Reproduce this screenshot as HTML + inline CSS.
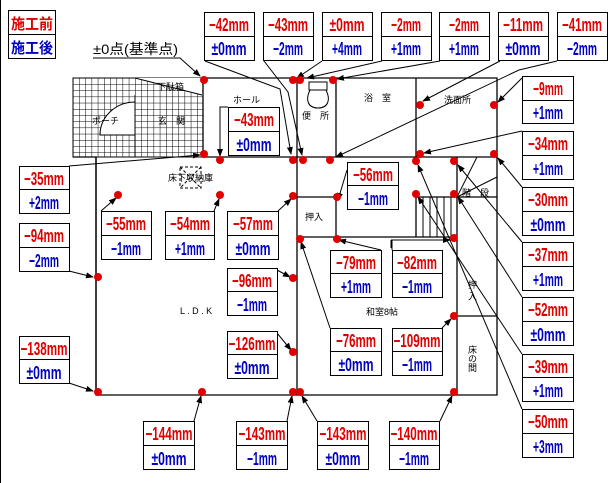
<!DOCTYPE html>
<html><head><meta charset="utf-8"><style>
html,body{margin:0;padding:0;background:#fff;}
svg{display:block;}
.r{fill:#e00000;font:bold 18px "Liberation Sans","Noto Sans CJK JP",sans-serif;text-anchor:middle;}
.b{fill:#0000c0;font:bold 18px "Liberation Sans","Noto Sans CJK JP",sans-serif;text-anchor:middle;}
.t{fill:#000;font:9px "Liberation Sans","Noto Sans CJK JP",sans-serif;}
</style></head><body>
<svg width="614" height="483" viewBox="0 0 614 483" xmlns="http://www.w3.org/2000/svg">
<defs>
<pattern id="g" x="73" y="78" width="6.2" height="6.2" patternUnits="userSpaceOnUse">
<path d="M0 0H6.2M0 0V6.2" stroke="#000" stroke-width="1" fill="none"/></pattern>
<marker id="a" markerWidth="8" markerHeight="6" refX="7" refY="3" orient="auto" markerUnits="userSpaceOnUse"><path d="M0 0L8 3L0 6z" fill="#000"/></marker>
</defs>
<rect x="0" y="0" width="614" height="483" fill="#fff"/>
<line x1="0.5" y1="0" x2="0.5" y2="483" stroke="#000"/>
<rect x="73" y="78" width="130" height="79" fill="url(#g)" stroke="#000"/>
<path d="M135 78H202V95L135 78Z" fill="#fff"/>
<line x1="135" y1="78" x2="202" y2="95" stroke="#000"/>
<path d="M100 135A35 33 0 0 1 135 102V135Z" fill="#fff" stroke="#000"/>
<line x1="135" y1="95" x2="135" y2="157" stroke="#000"/>
<g stroke="#000" stroke-width="1.3" fill="none">
<path d="M203 78H497V395H96V157H73"/>
<path d="M203 78V157H497"/>
<path d="M297 78V395"/>
<path d="M336 78V157M416 78V157"/>
<path d="M297 197H336V237M297 237H457"/>
<path d="M457 157V395M416 197H497M457 316H497"/>
<path d="M416 197V237"/>
<path d="M96 157V395"/>
</g>
<g stroke="#000" stroke-width="1">
<line x1="423" y1="197" x2="423" y2="237"/><line x1="430" y1="197" x2="430" y2="237"/>
<line x1="437" y1="197" x2="437" y2="237"/><line x1="444" y1="197" x2="444" y2="237"/>
<line x1="451" y1="197" x2="451" y2="237"/>
<line x1="457" y1="197" x2="477" y2="157"/><line x1="457" y1="197" x2="497" y2="177"/>
<line x1="391" y1="240" x2="391" y2="248"/><line x1="391" y1="240" x2="440" y2="240"/>
</g>
<path d="M309 82H327V90H309Z M310 90C305 100 308 108 318 108C328 108 331 100 326 90" fill="#fff" stroke="#000"/>
<rect x="180" y="167" width="21" height="21" fill="none" stroke="#000" stroke-dasharray="3,2"/>
<path d="M180 167L201 188M201 167L180 188" stroke="#000" stroke-dasharray="3,2"/>
<text class="t" x="157" y="90">下駄箱</text>
<text class="t" x="92" y="124">ポーチ</text>
<text class="t" x="158" y="124">玄　関</text>
<text class="t" x="233" y="103">ホール</text>
<text class="t" x="302" y="119">便　所</text>
<text class="t" x="364" y="101">浴　室</text>
<text class="t" x="444" y="103">洗面所</text>
<text class="t" x="168" y="181">床下収納庫</text>
<text class="t" x="305" y="220">押入</text>
<text class="t" x="462" y="196">階　段</text>
<text class="t" x="180" y="314">L . D . K</text>
<text class="t" x="366" y="315">和室8帖</text>
<text class="t" x="472" y="280" writing-mode="tb">押 入</text>
<text class="t" x="472" y="345" writing-mode="tb">床の間</text>
<text x="93" y="54" textLength="85" lengthAdjust="spacingAndGlyphs" style="font:14px 'Liberation Sans','Noto Sans CJK JP',sans-serif">±0点(基準点)</text>
<g stroke="#000" stroke-width="1" fill="none" marker-end="url(#a)">
<path d="M93 58H180L200 76"/>
<path d="M205 61L280 89L291 154"/>
<path d="M264 61L288 92L302 155"/>
<path d="M322 61L297 78"/>
<path d="M382 61L307 78"/>
<path d="M440 61L337 79"/>
<path d="M500 61L423 101"/>
<path d="M557 61L519 70L336 157"/>
<path d="M522 78L498 102"/>
<path d="M522 131L424 153"/>
<path d="M522 187L498 158"/>
<path d="M522 242L458 165"/>
<path d="M522 297L458 197"/>
<path d="M522 354L418 197"/>
<path d="M522 409L418 165"/>
<path d="M69 166L200 155"/>
<path d="M69 271L93 277"/>
<path d="M69 383L93 391"/>
<path d="M228 107H220V156"/>
<path d="M101 211L116 198"/>
<path d="M214 211L219 199"/>
<path d="M278 211L291 199"/>
<path d="M277 270L290 277"/>
<path d="M277 333L291 350"/>
<path d="M194 421L201 396"/>
<path d="M287 421L292 396"/>
<path d="M317 421L302 396"/>
<path d="M440 421L452 396"/>
<path d="M347 170L338 200"/>
<path d="M381 250L339 240"/>
<path d="M392 250V240H450"/>
<path d="M330 328L301 242"/>
<path d="M442 328L451 319"/>
</g>
<g fill="#e00000">
<circle cx="204" cy="80" r="4"/><circle cx="293" cy="80" r="4"/><circle cx="300" cy="80" r="4"/><circle cx="333" cy="80" r="4"/>
<circle cx="420" cy="105" r="4"/><circle cx="494" cy="105" r="4"/>
<circle cx="204" cy="154" r="4"/><circle cx="220" cy="160" r="4"/><circle cx="293" cy="160" r="4"/><circle cx="303" cy="160" r="4"/>
<circle cx="330" cy="160" r="4"/><circle cx="416" cy="161" r="4"/><circle cx="420" cy="154" r="4"/><circle cx="454" cy="161" r="4"/><circle cx="494" cy="154" r="4"/>
<circle cx="118" cy="195" r="4"/><circle cx="220" cy="195" r="4"/><circle cx="293" cy="196" r="4"/><circle cx="337" cy="197" r="4"/>
<circle cx="416" cy="194" r="4"/><circle cx="454" cy="194" r="4"/>
<circle cx="300" cy="239" r="4"/><circle cx="337" cy="239" r="4"/><circle cx="454" cy="238" r="4"/>
<circle cx="98" cy="277" r="4"/><circle cx="293" cy="278" r="4"/><circle cx="454" cy="316" r="4"/><circle cx="293" cy="352" r="4"/>
<circle cx="98" cy="392" r="4"/><circle cx="202" cy="392" r="4"/><circle cx="293" cy="392" r="4"/><circle cx="300" cy="392" r="4"/><circle cx="454" cy="392" r="4"/>
</g>
<g fill="#fff" stroke="#000" stroke-width="1">
<rect x="8.5" y="10.5" width="47" height="48"/><line x1="8.5" y1="34.5" x2="55.5" y2="34.5"/>
</g>
<text x="11" y="29" textLength="42" lengthAdjust="spacingAndGlyphs" style="fill:#e00000;font:bold 15px 'Noto Sans CJK JP',sans-serif">施工前</text>
<text x="11" y="53" textLength="42" lengthAdjust="spacingAndGlyphs" style="fill:#0000c0;font:bold 15px 'Noto Sans CJK JP',sans-serif">施工後</text>
<g fill="#fff" stroke="#000" stroke-width="1">
<rect x="204.5" y="12.5" width="50" height="48"/><rect x="263.5" y="12.5" width="50" height="48"/>
<rect x="322.5" y="12.5" width="50" height="48"/><rect x="381.5" y="12.5" width="50" height="48"/>
<rect x="439.5" y="12.5" width="50" height="48"/><rect x="498.5" y="12.5" width="50" height="48"/>
<rect x="557.5" y="12.5" width="50" height="48"/>
<rect x="522.5" y="76.5" width="51" height="47"/><rect x="522.5" y="131.5" width="51" height="48"/>
<rect x="522.5" y="187.5" width="51" height="48"/><rect x="522.5" y="242.5" width="51" height="48"/>
<rect x="522.5" y="297.5" width="51" height="48"/><rect x="522.5" y="354.5" width="51" height="47"/>
<rect x="522.5" y="409.5" width="51" height="48"/>
<rect x="143.5" y="421.5" width="51" height="48"/><rect x="236.5" y="421.5" width="51" height="48"/>
<rect x="317.5" y="421.5" width="51" height="48"/><rect x="389.5" y="421.5" width="50" height="48"/>
<rect x="19.5" y="166.5" width="50" height="47"/><rect x="19.5" y="223.5" width="50" height="48"/>
<rect x="19.5" y="336.5" width="50" height="47"/>
<rect x="228.5" y="107.5" width="51" height="48"/>
<rect x="101.5" y="211.5" width="50" height="48"/><rect x="165.5" y="211.5" width="49" height="48"/>
<rect x="227.5" y="211.5" width="51" height="48"/>
<rect x="227.5" y="268.5" width="50" height="47"/><rect x="227.5" y="331.5" width="50" height="47"/>
<rect x="347.5" y="162.5" width="51" height="47"/>
<rect x="330.5" y="250.5" width="51" height="47"/><rect x="392.5" y="250.5" width="50" height="47"/>
<rect x="330.5" y="328.5" width="51" height="47"/><rect x="392.5" y="328.5" width="50" height="47"/>
<path d="M204.5 36.5h50M263.5 36.5h50M322.5 36.5h50M381.5 36.5h50M439.5 36.5h50M498.5 36.5h50M557.5 36.5h50
M522.5 100.5h51M522.5 155.5h51M522.5 211.5h51M522.5 266.5h51M522.5 321.5h51M522.5 377.5h51M522.5 433.5h51
M143.5 445.5h51M236.5 445.5h51M317.5 445.5h51M389.5 445.5h50
M19.5 189.5h50M19.5 247.5h50M19.5 359.5h50M228.5 131.5h51
M101.5 235.5h50M165.5 235.5h49M227.5 235.5h51M227.5 291.5h50M227.5 354.5h50
M347.5 185.5h51M330.5 273.5h51M392.5 273.5h50M330.5 351.5h51M392.5 351.5h50"/>
</g>
<g>
<text class="r" x="229" y="31" textLength="40" lengthAdjust="spacingAndGlyphs">−42mm</text><text class="b" x="229" y="55" textLength="35" lengthAdjust="spacingAndGlyphs">±0mm</text>
<text class="r" x="288" y="31" textLength="40" lengthAdjust="spacingAndGlyphs">−43mm</text><text class="b" x="288" y="55" textLength="30" lengthAdjust="spacingAndGlyphs">−2mm</text>
<text class="r" x="347" y="31" textLength="35" lengthAdjust="spacingAndGlyphs">±0mm</text><text class="b" x="347" y="55" textLength="30" lengthAdjust="spacingAndGlyphs">+4mm</text>
<text class="r" x="406" y="31" textLength="30" lengthAdjust="spacingAndGlyphs">−2mm</text><text class="b" x="406" y="55" textLength="30" lengthAdjust="spacingAndGlyphs">+1mm</text>
<text class="r" x="464" y="31" textLength="30" lengthAdjust="spacingAndGlyphs">−2mm</text><text class="b" x="464" y="55" textLength="30" lengthAdjust="spacingAndGlyphs">+1mm</text>
<text class="r" x="523" y="31" textLength="40" lengthAdjust="spacingAndGlyphs">−11mm</text><text class="b" x="523" y="55" textLength="35" lengthAdjust="spacingAndGlyphs">±0mm</text>
<text class="r" x="582" y="31" textLength="40" lengthAdjust="spacingAndGlyphs">−41mm</text><text class="b" x="582" y="55" textLength="30" lengthAdjust="spacingAndGlyphs">−2mm</text>
<text class="r" x="548" y="95" textLength="30" lengthAdjust="spacingAndGlyphs">−9mm</text><text class="b" x="548" y="119" textLength="30" lengthAdjust="spacingAndGlyphs">+1mm</text>
<text class="r" x="548" y="150" textLength="40" lengthAdjust="spacingAndGlyphs">−34mm</text><text class="b" x="548" y="175" textLength="30" lengthAdjust="spacingAndGlyphs">+1mm</text>
<text class="r" x="548" y="206" textLength="40" lengthAdjust="spacingAndGlyphs">−30mm</text><text class="b" x="548" y="231" textLength="35" lengthAdjust="spacingAndGlyphs">±0mm</text>
<text class="r" x="548" y="261" textLength="40" lengthAdjust="spacingAndGlyphs">−37mm</text><text class="b" x="548" y="286" textLength="30" lengthAdjust="spacingAndGlyphs">+1mm</text>
<text class="r" x="548" y="316" textLength="40" lengthAdjust="spacingAndGlyphs">−52mm</text><text class="b" x="548" y="341" textLength="35" lengthAdjust="spacingAndGlyphs">±0mm</text>
<text class="r" x="548" y="373" textLength="40" lengthAdjust="spacingAndGlyphs">−39mm</text><text class="b" x="548" y="397" textLength="30" lengthAdjust="spacingAndGlyphs">+1mm</text>
<text class="r" x="548" y="428" textLength="40" lengthAdjust="spacingAndGlyphs">−50mm</text><text class="b" x="548" y="453" textLength="30" lengthAdjust="spacingAndGlyphs">+3mm</text>
<text class="r" x="169" y="440" textLength="47" lengthAdjust="spacingAndGlyphs">−144mm</text><text class="b" x="169" y="465" textLength="35" lengthAdjust="spacingAndGlyphs">±0mm</text>
<text class="r" x="262" y="440" textLength="47" lengthAdjust="spacingAndGlyphs">−143mm</text><text class="b" x="262" y="465" textLength="30" lengthAdjust="spacingAndGlyphs">−1mm</text>
<text class="r" x="343" y="440" textLength="47" lengthAdjust="spacingAndGlyphs">−143mm</text><text class="b" x="343" y="465" textLength="35" lengthAdjust="spacingAndGlyphs">±0mm</text>
<text class="r" x="414" y="440" textLength="47" lengthAdjust="spacingAndGlyphs">−140mm</text><text class="b" x="414" y="465" textLength="30" lengthAdjust="spacingAndGlyphs">−1mm</text>
<text class="r" x="44" y="185" textLength="40" lengthAdjust="spacingAndGlyphs">−35mm</text><text class="b" x="44" y="209" textLength="30" lengthAdjust="spacingAndGlyphs">+2mm</text>
<text class="r" x="44" y="242" textLength="40" lengthAdjust="spacingAndGlyphs">−94mm</text><text class="b" x="44" y="267" textLength="30" lengthAdjust="spacingAndGlyphs">−2mm</text>
<text class="r" x="44" y="355" textLength="47" lengthAdjust="spacingAndGlyphs">−138mm</text><text class="b" x="44" y="379" textLength="35" lengthAdjust="spacingAndGlyphs">±0mm</text>
<text class="r" x="254" y="126" textLength="40" lengthAdjust="spacingAndGlyphs">−43mm</text><text class="b" x="254" y="151" textLength="35" lengthAdjust="spacingAndGlyphs">±0mm</text>
<text class="r" x="126" y="230" textLength="40" lengthAdjust="spacingAndGlyphs">−55mm</text><text class="b" x="126" y="255" textLength="30" lengthAdjust="spacingAndGlyphs">−1mm</text>
<text class="r" x="190" y="230" textLength="40" lengthAdjust="spacingAndGlyphs">−54mm</text><text class="b" x="190" y="255" textLength="30" lengthAdjust="spacingAndGlyphs">+1mm</text>
<text class="r" x="253" y="230" textLength="40" lengthAdjust="spacingAndGlyphs">−57mm</text><text class="b" x="253" y="255" textLength="35" lengthAdjust="spacingAndGlyphs">±0mm</text>
<text class="r" x="252" y="287" textLength="40" lengthAdjust="spacingAndGlyphs">−96mm</text><text class="b" x="252" y="311" textLength="30" lengthAdjust="spacingAndGlyphs">−1mm</text>
<text class="r" x="252" y="350" textLength="47" lengthAdjust="spacingAndGlyphs">−126mm</text><text class="b" x="252" y="374" textLength="35" lengthAdjust="spacingAndGlyphs">±0mm</text>
<text class="r" x="373" y="181" textLength="40" lengthAdjust="spacingAndGlyphs">−56mm</text><text class="b" x="373" y="205" textLength="30" lengthAdjust="spacingAndGlyphs">−1mm</text>
<text class="r" x="356" y="269" textLength="40" lengthAdjust="spacingAndGlyphs">−79mm</text><text class="b" x="356" y="293" textLength="30" lengthAdjust="spacingAndGlyphs">+1mm</text>
<text class="r" x="417" y="269" textLength="40" lengthAdjust="spacingAndGlyphs">−82mm</text><text class="b" x="417" y="293" textLength="30" lengthAdjust="spacingAndGlyphs">−1mm</text>
<text class="r" x="356" y="347" textLength="40" lengthAdjust="spacingAndGlyphs">−76mm</text><text class="b" x="356" y="371" textLength="35" lengthAdjust="spacingAndGlyphs">±0mm</text>
<text class="r" x="417" y="347" textLength="47" lengthAdjust="spacingAndGlyphs">−109mm</text><text class="b" x="417" y="371" textLength="30" lengthAdjust="spacingAndGlyphs">−1mm</text>
</g>
</svg>
</body></html>
